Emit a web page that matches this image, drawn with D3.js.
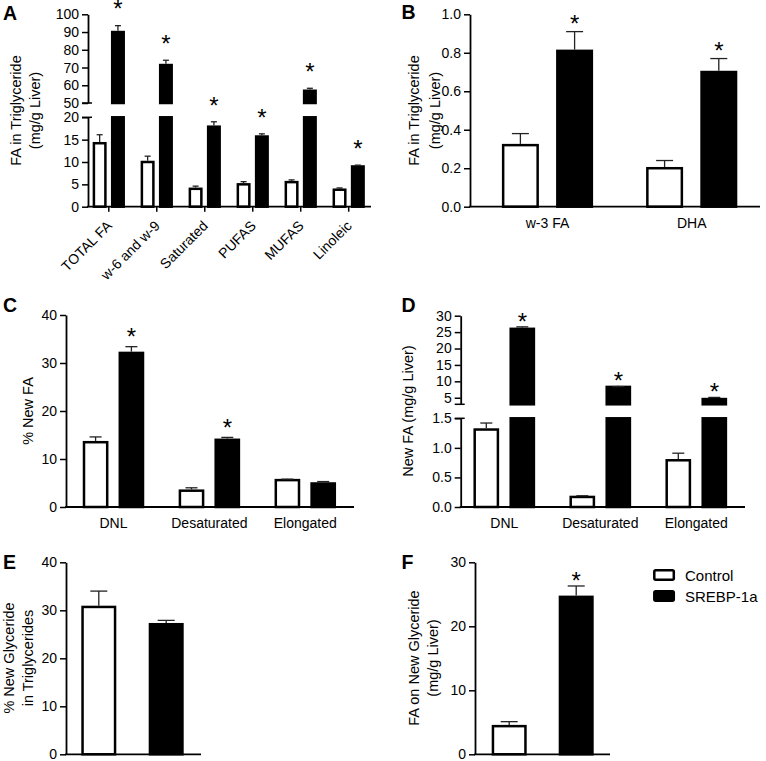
<!DOCTYPE html>
<html><head><meta charset="utf-8">
<script src="https://cdn.jsdelivr.net/npm/d3@7"></script>
<style>
body{margin:0;background:#fff}
svg{display:block}
text{font-family:"Liberation Sans",Arial,Helvetica,sans-serif;fill:#000}
</style>
</head><body>
<svg id="chart" width="766" height="761"></svg>
<script>
// ---------------- DATA ----------------
const seriesNames = ["Control", "SREBP-1a"];

// Panel A: FA in triglyceride (mg/g liver)
const aCategories = ["TOTAL FA", "w-6 and w-9", "Saturated", "PUFAS", "MUFAS", "Linoleic"];
const aControl    = [14.2, 10.0, 4.0, 5.0, 5.5, 3.8];
const aControlSem = [1.9, 1.3, 0.6, 0.6, 0.5, 0.4];
const aSrebp      = [90.0, 71.4, 17.9, 15.7, 56.9, 9.0];
const aSrebpSem   = [3.6, 2.7, 1.1, 0.6, 1.4, 0.3];
const aStars      = [true, true, true, true, true, true];
const aTicksLower = [0, 5, 10, 15, 20];
const aTicksUpper = [50, 60, 70, 80, 90, 100];

// Panel B
const bCategories = ["w-3 FA", "DHA"];
const bControl    = [0.32, 0.20];
const bControlSem = [0.06, 0.04];
const bSrebp      = [0.81, 0.70];
const bSrebpSem   = [0.10, 0.07];
const bStars      = [true, true];
const bTicks      = [0, 0.2, 0.4, 0.6, 0.8, 1.0];

// Panel C: % new FA
const cCategories = ["DNL", "Desaturated", "Elongated"];
const cControl    = [13.5, 3.4, 5.6];
const cControlSem = [1.1, 0.6, 0.2];
const cSrebp      = [32.1, 14.0, 4.9];
const cSrebpSem   = [1.3, 0.5, 0.4];
const cStars      = [true, true, false];
const cTicks      = [0, 10, 20, 30, 40];

// Panel D: new FA (mg/g liver)
const dCategories = ["DNL", "Desaturated", "Elongated"];
const dControl    = [1.31, 0.17, 0.79];
const dControlSem = [0.11, 0.02, 0.12];
const dSrebp      = [26.0, 8.3, 4.6];
const dSrebpSem   = [0.6, 0.1, 0.5];
const dStars      = [true, true, true];
const dTicksLower = [0, 0.5, 1.0, 1.5];
const dTicksUpper = [5, 10, 15, 20, 25, 30];

// Panel E: % new glyceride in triglycerides
const eCategories = [""];
const eControl    = [30.7];
const eControlSem = [3.3];
const eSrebp      = [27.1];
const eSrebpSem   = [0.8];
const eStars      = [false];
const eTicks      = [0, 10, 20, 30, 40];

// Panel F: FA on new glyceride (mg/g liver)
const fCategories = [""];
const fControl    = [4.4];
const fControlSem = [0.7];
const fSrebp      = [24.6];
const fSrebpSem   = [1.7];
const fStars      = [true];
const fTicks      = [0, 10, 20, 30];

// ---------------- LAYOUT ----------------
const fInt = d3.format("d"), f1 = d3.format(".1f");
const svg = d3.select("#chart");

const panels = [
  { letter:"A", lx:3, ly:19.5, cats:aCategories, ctrl:aControl, ctrlSem:aControlSem, sreb:aSrebp, srebSem:aSrebpSem, stars:aStars,
    axisX:88, axisEnd:371, centers:[108.8,348.7], barW:11.5, barSep:18.3, capW:6, starOff:22,
    segs:[{domain:[0,20], range:[206.7,117.3], ticks:aTicksLower, fmt:fInt, breakTop:true},
          {domain:[50,100], range:[103,14.3], ticks:aTicksUpper, fmt:fInt, breakBottom:true}],
    titles:[{t:"FA in Triglyceride", x:20.5},{t:"(mg/g Liver)", x:39.5}], titleY:110.5, rotated:true },
  { letter:"B", lx:401.5, ly:19, cats:bCategories, ctrl:bControl, ctrlSem:bControlSem, sreb:bSrebp, srebSem:bSrebpSem, stars:bStars,
    axisX:470, axisEnd:760, centers:[547.5,691.7], barW:34.5, barSep:54.2, capW:17, starOff:13,
    segs:[{domain:[0,1], range:[206.7,14.3], ticks:bTicks, fmt:f1}],
    titles:[{t:"FA in Triglyceride", x:418.5},{t:"(mg/g Liver)", x:439.5}], titleY:110.5 },
  { letter:"C", lx:3, ly:312, cats:cCategories, ctrl:cControl, ctrlSem:cControlSem, sreb:cSrebp, srebSem:cSrebpSem, stars:cStars,
    axisX:66, axisEnd:354, centers:[113.5,305.3], barW:23.2, barSep:35.8, capW:12, starOff:15,
    segs:[{domain:[0,40], range:[507,315], ticks:cTicks, fmt:fInt}],
    titles:[{t:"% New FA", x:32.5}], titleY:411 },
  { letter:"D", lx:401.5, ly:312, cats:dCategories, ctrl:dControl, ctrlSem:dControlSem, sreb:dSrebp, srebSem:dSrebpSem, stars:dStars,
    axisX:460.7, axisEnd:745, centers:[504.3,696.3], barW:23.2, barSep:36, capW:12, starOff:11,
    segs:[{domain:[0,1.5], range:[507,418.3], ticks:dTicksLower, fmt:f1, breakTop:true},
          {domain:[3,30], range:[404.3,315.7], ticks:dTicksUpper, fmt:fInt, breakBottom:true}],
    titles:[{t:"New FA (mg/g Liver)", x:412.5}], titleY:411 },
  { letter:"E", lx:3, ly:568.5, cats:eCategories, ctrl:eControl, ctrlSem:eControlSem, sreb:eSrebp, srebSem:eSrebpSem, stars:eStars,
    axisX:66, axisEnd:201, centers:[132.5,132.5], step:135, barW:32.5, barSep:67.4, capW:17, starOff:11, noLabels:true,
    segs:[{domain:[0,40], range:[754.3,562.3], ticks:eTicks, fmt:fInt}],
    titles:[{t:"% New Glyceride", x:14},{t:"in Triglycerides", x:33}], titleY:658 },
  { letter:"F", lx:401.5, ly:568.5, cats:fCategories, ctrl:fControl, ctrlSem:fControlSem, sreb:fSrebp, srebSem:fSrebpSem, stars:fStars,
    axisX:475, axisEnd:610, centers:[542.7,542.7], step:135, barW:32.5, barSep:67, capW:17, starOff:10.5, noLabels:true,
    segs:[{domain:[0,30], range:[754.3,562.3], ticks:fTicks, fmt:fInt}],
    titles:[{t:"FA on New Glyceride", x:418.5},{t:"(mg/g Liver)", x:437.5}], titleY:658 }
];

const BAR_STROKE = 2.5, AXIS_W = 1.8, STAR_SIZE = 24;

function drawPanel(p) {
  const g = svg.append("g");
  const n = p.cats.length;
  const step = n > 1 ? (p.centers[1] - p.centers[0]) / (n - 1) : p.step;
  const innerPad = 1 - p.barW / p.barSep;
  const groupBW = p.barSep * (2 - innerPad);
  const gPad = 1 - groupBW / step;
  const x = d3.scaleBand().domain(p.cats)
    .range([p.centers[0] - step / 2, p.centers[1] + step / 2])
    .paddingInner(gPad).paddingOuter(gPad / 2);
  const xs = d3.scaleBand().domain(seriesNames).range([0, x.bandwidth()])
    .paddingInner(innerPad).paddingOuter(0);

  const segs = p.segs.map(s => Object.assign({}, s, {y: d3.scaleLinear().domain(s.domain).range(s.range)}));
  const y0 = segs[0].y(0);

  // bars
  const rows = [];
  p.cats.forEach((c, i) => {
    rows.push({cat:c, s:"Control", v:p.ctrl[i], e:p.ctrlSem[i], star:false});
    rows.push({cat:c, s:"SREBP-1a", v:p.sreb[i], e:p.srebSem[i], star:p.stars[i]});
  });
  rows.forEach(r => {
    const bx = x(r.cat) + xs(r.s);
    const cx = bx + xs.bandwidth() / 2;
    const fill = r.s === "Control" ? "#fff" : "#000";
    segs.forEach(sg => {
      const lo = sg.domain[0], hi = sg.domain[1];
      if (r.v > lo) {
        const top = Math.min(r.v, hi);
        g.append("rect").attr("x", bx).attr("width", xs.bandwidth())
          .attr("y", sg.y(top)).attr("height", sg.y(lo) - sg.y(top))
          .attr("fill", fill).attr("stroke", "#000").attr("stroke-width", BAR_STROKE);
      }
    });
    // error bar
    const et = r.v + r.e;
    const sg = segs.find(s => r.v >= s.domain[0] && r.v <= s.domain[1]) || segs[segs.length - 1];
    const yv = sg.y(r.v), ye = sg.y(et);
    g.append("line").attr("x1", cx).attr("x2", cx).attr("y1", yv - BAR_STROKE / 2).attr("y2", ye)
      .attr("stroke", "#222").attr("stroke-width", 1.3);
    g.append("line").attr("x1", cx - p.capW / 2).attr("x2", cx + p.capW / 2).attr("y1", ye).attr("y2", ye)
      .attr("stroke", "#222").attr("stroke-width", 1.3);
    if (r.star) {
      const sc = ye - p.starOff;
      g.append("text").attr("x", cx).attr("y", sc + STAR_SIZE * 0.573)
        .attr("text-anchor", "middle").attr("font-size", STAR_SIZE).text("*");
    }
  });

  // y axes
  segs.forEach(sg => {
    const ax = g.append("g").attr("transform", `translate(${p.axisX},0)`)
      .call(d3.axisLeft(sg.y).tickValues(sg.ticks).tickFormat(sg.fmt).tickSize(6).tickPadding(3).tickSizeOuter(0));
    ax.select(".domain").attr("stroke-width", AXIS_W);
    ax.selectAll(".tick line").attr("stroke-width", 1.5);
    ax.selectAll(".tick text").attr("font-size", 14).attr("font-family", null);
    if (sg.breakTop) {
      g.append("line").attr("x1", p.axisX - 6).attr("x2", p.axisX + 4)
        .attr("y1", sg.range[1]).attr("y2", sg.range[1]).attr("stroke", "#000").attr("stroke-width", 1.5);
    }
    if (sg.breakBottom) {
      g.append("line").attr("x1", p.axisX - 6).attr("x2", p.axisX + 4)
        .attr("y1", sg.range[0]).attr("y2", sg.range[0]).attr("stroke", "#000").attr("stroke-width", 1.5);
    }
  });

  // x axis
  g.append("line").attr("x1", p.axisX - AXIS_W / 2).attr("x2", p.axisEnd).attr("y1", y0).attr("y2", y0)
    .attr("stroke", "#000").attr("stroke-width", AXIS_W);
  if (!p.noLabels) {
    const xa = g.append("g").attr("transform", `translate(0,${y0})`)
      .call(d3.axisBottom(x).tickSize(p.rotated ? 5 : 0).tickPadding(11));
    xa.select(".domain").remove();
    xa.selectAll(".tick line").attr("stroke-width", 1.5);
    const tx = xa.selectAll(".tick text").attr("font-size", 14).attr("font-family", null);
    if (p.rotated) {
      tx.attr("x", 4).attr("y", 20).attr("dy", 0).attr("text-anchor", "end")
        .attr("transform", "rotate(-45,4,20)");
    } else {
      tx.attr("y", 21).attr("dy", 0);
    }
  }

  // titles
  p.titles.forEach(t => {
    g.append("text").attr("transform", `translate(${t.x},${p.titleY}) rotate(-90)`)
      .attr("text-anchor", "middle").attr("font-size", 14.5).text(t.t);
  });
  // panel letter
  g.append("text").attr("x", p.lx).attr("y", p.ly).attr("font-size", 19.5).attr("font-weight", "bold").text(p.letter);
}

panels.forEach(drawPanel);

// legend
const leg = svg.append("g").attr("transform", "translate(654.3,570.3)");
seriesNames.forEach((s, i) => {
  const row = leg.append("g").attr("transform", `translate(0,${i * 21})`);
  row.append("rect").attr("width", 19.5).attr("height", 9.5).attr("rx", 1.5)
    .attr("fill", i === 0 ? "#fff" : "#000").attr("stroke", "#000").attr("stroke-width", BAR_STROKE);
  row.append("text").attr("x", 30.7).attr("y", 10.7).attr("font-size", 15).text(s);
});
</script>
</body></html>
